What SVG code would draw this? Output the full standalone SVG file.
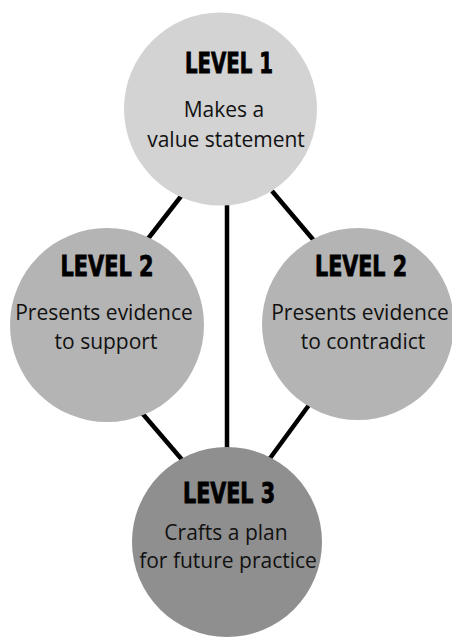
<svg xmlns="http://www.w3.org/2000/svg" width="452" height="638" viewBox="0 0 452 638">
<style>
.h{font-family:"DejaVu Sans Condensed","DejaVu Sans",sans-serif;font-weight:bold;font-size:28px;fill:#000;stroke:#000;stroke-width:0.8;text-anchor:middle}
.t{font-family:"Open Sans","Noto Sans",sans-serif;font-size:21px;fill:#111;text-anchor:middle}
.c{stroke:#000;stroke-width:4.5;fill:none}
</style>
<rect width="452" height="638" fill="#fff"/>
<g id="connectors">
<line class="c" x1="182" y1="195" x2="147" y2="240"/>
<line class="c" x1="272" y1="191" x2="316" y2="243"/>
<line class="c" x1="227" y1="200" x2="227" y2="455"/>
<line class="c" x1="142" y1="413" x2="184" y2="462"/>
<line class="c" x1="309" y1="405" x2="268" y2="461"/>
</g>
<g id="level1">
<circle cx="220.5" cy="109" r="96.5" fill="#d3d3d3"/>
<text class="h" x="229" y="73" textLength="88" lengthAdjust="spacingAndGlyphs">LEVEL 1</text>
<text class="t" x="224" y="117">Makes a</text>
<text class="t" x="226" y="147">value statement</text>
</g>
<g id="level2-support">
<circle cx="107" cy="325" r="97" fill="#b4b4b4"/>
<text class="h" x="107" y="276" textLength="93" lengthAdjust="spacingAndGlyphs">LEVEL 2</text>
<text class="t" x="104" y="320">Presents evidence</text>
<text class="t" x="106" y="349">to support</text>
</g>
<g id="level2-contradict">
<circle cx="358" cy="324" r="96" fill="#b4b4b4"/>
<text class="h" x="361" y="276" textLength="92" lengthAdjust="spacingAndGlyphs">LEVEL 2</text>
<text class="t" x="360" y="320">Presents evidence</text>
<text class="t" x="363" y="349">to contradict</text>
</g>
<g id="level3">
<circle cx="227" cy="542" r="95" fill="#8f8f8f"/>
<text class="h" x="229" y="503" textLength="92" lengthAdjust="spacingAndGlyphs">LEVEL 3</text>
<text class="t" x="226" y="540">Crafts a plan</text>
<text class="t" x="228" y="568">for future practice</text>
</g>
</svg>
